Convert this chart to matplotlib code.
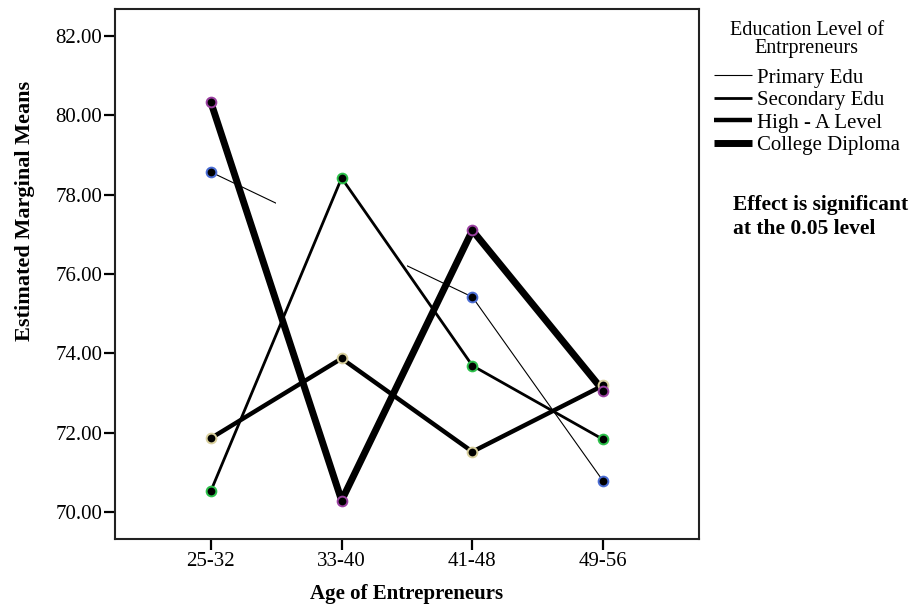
import numpy as np
import matplotlib
matplotlib.use("Agg")
import matplotlib.pyplot as plt
from matplotlib.patches import Rectangle
from matplotlib.ticker import FormatStrFormatter

age_groups = ["25-32", "33-40", "41-48", "49-56"]
edu_levels = ["Primary Edu", "Secondary Edu", "High - A Level", "College Diploma"]

primary_edu = [78.57, np.nan, 75.42, 70.78]
secondary_edu = [70.53, 78.42, 73.69, 71.83]
high_a_level = [71.86, 73.87, 71.52, 73.19]
college_diploma = [80.33, 70.29, 77.10, 73.06]

series = [primary_edu, secondary_edu, high_a_level, college_diploma]
widths = [0.8, 2.0, 3.2, 5.0]
edge_colors = ["#4a6cd4", "#2cc04a", "#d8cf9c", "#9a3fa0"]

plt.rcParams["font.family"] = ["Liberation Serif", "DejaVu Serif"]

fig = plt.figure(figsize=(9.12, 6.05), dpi=100)
ax = fig.add_axes([115 / 912, 66 / 605, 584 / 912, 530 / 605])

x = np.arange(1, len(age_groups) + 1)

handles = []
for vals, lw, ec, name in zip(series, widths, edge_colors, edu_levels):
    vals = np.array(vals, dtype=float)
    ok = ~np.isnan(vals)
    if ok.all():
        ax.plot(x, vals, color="black", lw=lw, solid_capstyle="butt", zorder=2)
    else:
        # non-estimable mean: SPSS draws only the ends of the bridging segment
        for x0, x1 in [(0, 1.5), (2.5, 10)]:
            part, = ax.plot(x[ok], vals[ok], color="black", lw=lw, zorder=2)
            clip = Rectangle((x0, 0), x1 - x0, 1, transform=ax.get_xaxis_transform())
            part.set_clip_path(clip)
    ax.plot(x[ok], vals[ok], ls="none", marker="o", ms=7, mfc="black",
            mec=ec, mew=1.4, zorder=3)
    handles.append(plt.Line2D([], [], color="black", lw=lw, solid_capstyle="butt"))

ax.set_xlim(0.267, 4.733)
ax.set_ylim(69.32, 82.68)
ax.set_xticks(x)
ax.set_xticklabels(age_groups)
ax.set_yticks(np.arange(70, 83, 2))
ax.yaxis.set_major_formatter(FormatStrFormatter("%.2f"))
ax.tick_params(axis="both", direction="out", length=8, width=1.6, labelsize=15,
               color="black", pad=1)
for sp in ax.spines.values():
    sp.set_linewidth(1.5)
    sp.set_color("#222222")

ax.set_xlabel("Age of Entrepreneurs", fontsize=15, fontweight="bold", va="center")
ax.set_ylabel("Estimated Marginal Means", fontsize=16, fontweight="bold", va="center")
ax.xaxis.set_label_coords(0.5, -55 / 530)
ax.yaxis.set_label_coords(-90 / 584, 328 / 530)

leg = fig.legend(handles, edu_levels, loc="upper left",
                 bbox_to_anchor=(714 / 912, 1 - 21 / 605),
                 title="Education Level of\nEntrpreneurs", title_fontsize=14.5,
                 fontsize=15, frameon=False, handlelength=1.8, handletextpad=0.25,
                 labelspacing=0.14, borderaxespad=0, borderpad=0)
leg.get_title().set_linespacing(0.95)
leg.get_title().set_multialignment("center")
leg._legend_box.sep = 7

fig.text(733 / 912, 1 - 217 / 605, "Effect is significant\nat the 0.05 level",
         fontsize=15.5, fontweight="bold", va="center", ha="left", linespacing=1.25)

fig.savefig("out.png", dpi=100)
